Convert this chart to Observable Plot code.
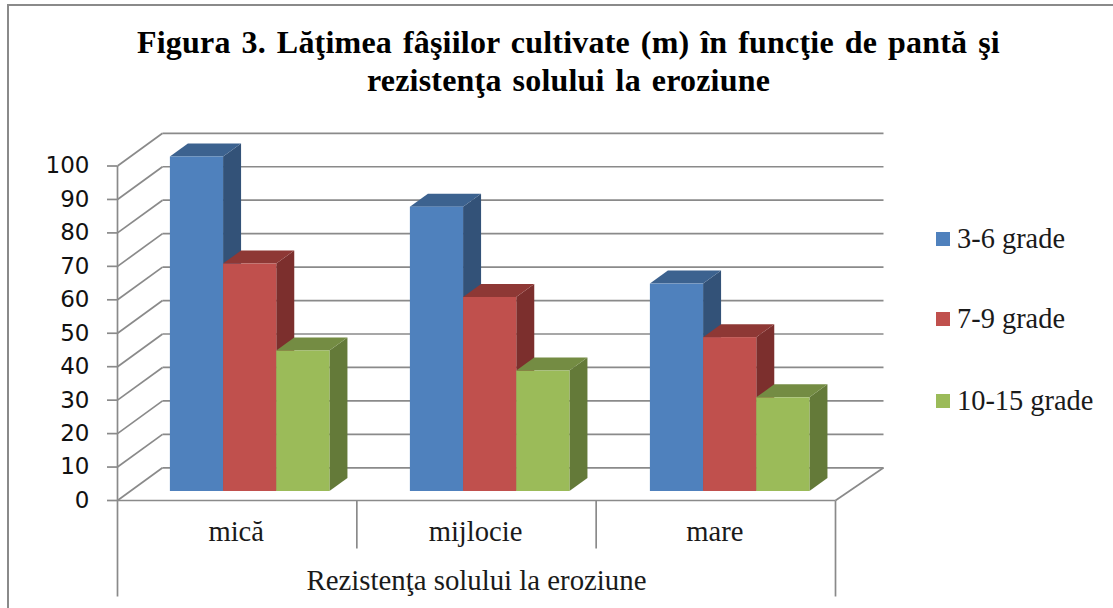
<!DOCTYPE html>
<html>
<head>
<meta charset="utf-8">
<script src="https://cdn.jsdelivr.net/npm/d3@7"></script>
<script src="https://cdn.jsdelivr.net/npm/@observablehq/plot@0.6"></script>
<style>
  html, body { margin: 0; padding: 0; background: #fff; }
  #chart { position: relative; width: 1113px; height: 608px; overflow: hidden; background: #fff; }
  #border { position: absolute; left: 7px; top: 4px; right: -4px; height: 602px; border-left: 2px solid #8a8a8a; border-top: 2px solid #8a8a8a; }
  #title { position: relative; height: 108px; width: 1137px; box-sizing: border-box; padding-top: 23px; text-align: center;
           font: bold 32px/38px "Liberation Serif", serif; color: #000; word-spacing: 2.7px; letter-spacing: .2px; }
  #plot svg { display: block; overflow: visible; }
  #legend { position: absolute; left: 936px; top: 0; font: 28.4px "Liberation Serif", serif; color: #1a1a1a; }
  .item { position: absolute; left: 0; white-space: nowrap; height: 30px; line-height: 30px; padding-left: 21px; }
  .item i { position: absolute; left: 0; top: 8px; width: 14px; height: 14px; }
</style>
</head>
<body>
<div id="chart">
  <div id="border"></div>
  <div id="title">Figura 3. Lăţimea fâşiilor cultivate (m) în funcţie de pantă şi<br>rezistenţa solului la eroziune</div>
  <div id="plot"></div>
  <div id="legend"></div>
</div>
<script>
const categories = ["mică", "mijlocie", "mare"];
const seriesNames = ["3-6 grade", "7-9 grade", "10-15 grade"];
const values36 = [100, 85, 62];
const values79 = [68, 58, 46];
const values1015 = [42, 36, 28];
const yTicks = [0, 10, 20, 30, 40, 50, 60, 70, 80, 90, 100];
const axisTitle = "Rezistenţa solului la eroziune";
const frontColors = ["#4F81BD", "#C0504D", "#9BBB59"];
const sideColors = ["#335278", "#7C2F2D", "#647A39"];
const topColors = ["#3C628F", "#8E3835", "#748C43"];
const legendCenters = [239, 319, 401];

const seriesValues = [values36, values79, values1015];
const rows = categories.flatMap((c, ci) => seriesNames.map((s, si) => ({
  cat: ci, series: s, si, value: seriesValues[si][ci]
})));

// layout of the 3-D box, in scale units / pixels
const gap = 0.75 / 4.5, barW = 1 / 4.5, barStep = 240 / 239.33;
const wallX = 45 / 239.33, wallXRight = 48 / 239.33, wallY = 32.7 / 3.345;
const barDepthX = 18, barDepthY = 13;
const pxY = 1 / 3.345;
const grid = {stroke: "#8a8a8a", strokeWidth: 1.7};

function prism(index, scales, values, dims, ctx, next) {
  const g = next(index, scales, values, dims, ctx);
  const rects = g.querySelectorAll("rect");
  index.forEach((i, k) => {
    const x1 = values.x1[i], x2 = values.x2[i], yb = values.y1[i], yt = values.y2[i];
    const si = rows[i].si;
    const side = document.createElementNS("http://www.w3.org/2000/svg", "polygon");
    side.setAttribute("points", `${x2},${yt} ${x2 + barDepthX},${yt - barDepthY} ${x2 + barDepthX},${yb - barDepthY} ${x2},${yb}`);
    side.setAttribute("fill", sideColors[si]);
    const top = document.createElementNS("http://www.w3.org/2000/svg", "polygon");
    top.setAttribute("points", `${x1},${yt} ${x1 + barDepthX},${yt - barDepthY} ${x2 + barDepthX},${yt - barDepthY} ${x2},${yt}`);
    top.setAttribute("fill", topColors[si]);
    g.insertBefore(side, rects[k]);
    g.insertBefore(top, rects[k]);
  });
  return g;
}

const chart = Plot.plot({
  width: 1113,
  height: 500,
  marginLeft: 117,
  marginRight: 278,
  marginTop: 57.5,
  marginBottom: 108,
  x: {domain: [0, 3], axis: null},
  y: {domain: [0, 100], axis: null},
  color: {domain: seriesNames, range: frontColors},
  marks: [
    // back wall grid
    Plot.link(yTicks, {x1: () => wallX, x2: () => 3 + wallXRight, y1: d => d + wallY, y2: d => d + wallY, ...grid}),
    // left wall diagonals
    Plot.link(yTicks, {x1: () => 0, x2: () => wallX, y1: d => d, y2: d => d + wallY, ...grid}),
    // floor right edge
    Plot.link([0], {x1: () => 3, x2: () => 3 + wallXRight, y1: () => 0, y2: () => wallY, ...grid}),
    // axes
    Plot.axisY({ticks: yTicks, tickSize: 10, tickPadding: 18, label: null, fontSize: 23, fontFamily: "DejaVu Sans", fill: "#111", stroke: "#8a8a8a", strokeWidth: 1.7}),
    Plot.link([0], {x1: () => 0, x2: () => 3, y1: () => 0, y2: () => 0, ...grid}),
    // vertical axis and lower brackets
    Plot.link([0, 3], {x1: d => d, x2: d => d, y1: d => d === 0 ? 100 : 0, y2: () => -96 * pxY, ...grid}),
    Plot.link([1, 2], {x1: d => d, x2: d => d, y1: () => 0, y2: () => -48 * pxY, ...grid}),
    // bars
    Plot.rect(rows, {
      x1: d => d.cat * barStep + gap + d.si * barW,
      x2: d => d.cat * barStep + gap + (d.si + 1) * barW,
      y1: () => 0,
      y2: "value",
      fill: "series",
      dx: 13,
      dy: -9,
      render: prism
    }),
    // category and axis titles
    Plot.text(categories, {x: (d, i) => i + 0.5, y: () => 0, text: d => d, dx: -1, dy: 31, fontFamily: "Liberation Serif", fontSize: 28.6, fill: "#1a1a1a"}),
    Plot.text([axisTitle], {x: () => 1.5, y: () => 0, text: d => d, dy: 80, fontFamily: "Liberation Serif", fontSize: 28.8, fill: "#1a1a1a"})
  ]
});

document.getElementById("plot").appendChild(chart);

const legend = document.getElementById("legend");
seriesNames.forEach((s, i) => {
  const it = document.createElement("div");
  it.className = "item";
  it.style.top = (legendCenters[i] - 15) + "px";
  const sw = document.createElement("i");
  sw.style.background = frontColors[i];
  it.appendChild(sw);
  it.appendChild(document.createTextNode(s));
  legend.appendChild(it);
});
</script>
</body>
</html>
